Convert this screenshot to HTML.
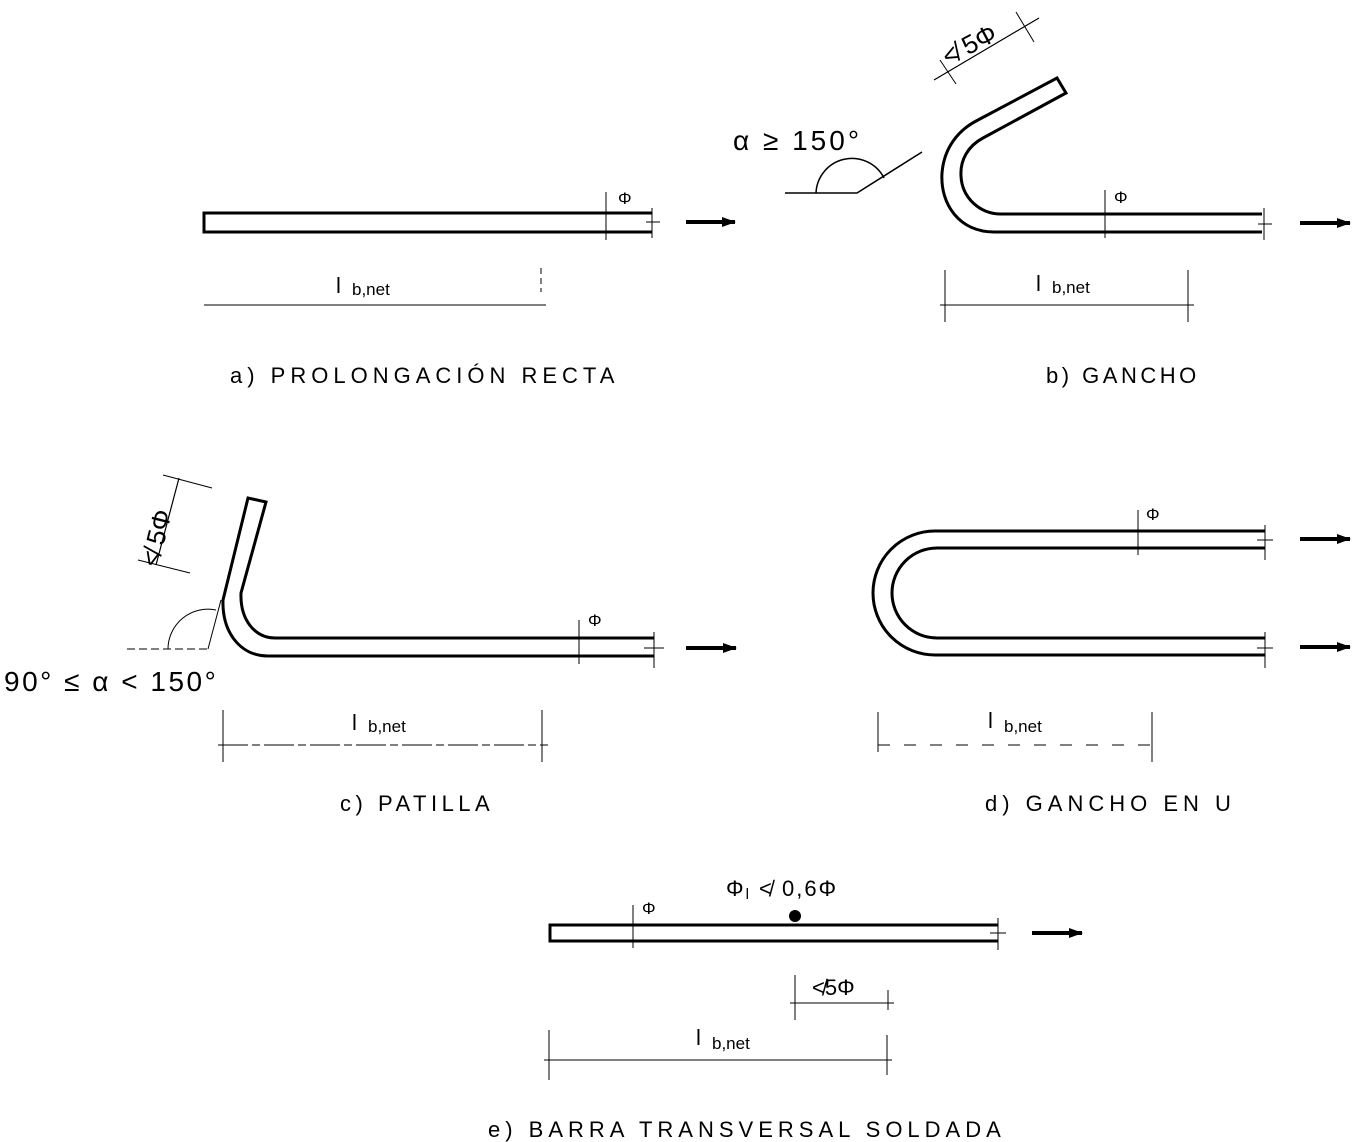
<!DOCTYPE html>
<html><head><meta charset="utf-8"><style>
body{margin:0;background:#fff}
svg{display:block}
text{font-family:"Liberation Sans",sans-serif;fill:#000}
.cap{font-size:22px;letter-spacing:5px}
.lb{font-size:22px}
.sub{font-size:17px}
</style></head><body>
<svg width="1356" height="1142" viewBox="0 0 1356 1142" xmlns="http://www.w3.org/2000/svg">
<defs><marker id="ar" markerWidth="14" markerHeight="10" refX="13" refY="5" orient="auto" markerUnits="userSpaceOnUse"><path d="M0,0 L14,5 L0,10 Z" fill="#000"/></marker></defs>
<g fill="none" stroke="#000">
<!-- a -->
<path d="M652,213 L204,213 L204,232 L652,232" stroke-width="3"/>
<line x1="606" y1="192" x2="606" y2="240" stroke-width="1"/>
<path d="M652,208 V238 M646,222 H660" stroke-width="1"/>
<line x1="686" y1="222" x2="735" y2="222" stroke-width="4" marker-end="url(#ar)"/>
<line x1="204" y1="305" x2="546" y2="305" stroke-width="1"/>
<line x1="541" y1="268" x2="541" y2="292" stroke-width="1" stroke-dasharray="6,4"/>
<!-- b -->
<path d="M1262,232 L994,232 C960,232 940,205 942,173 C944,148 958,130 978,120 L1057,78 L1066,93 L983,138 C968,146 960,160 961,176 C962,198 980,214 1001,214 L1262,214" stroke-width="3"/>
<line x1="1105" y1="190" x2="1105" y2="238" stroke-width="1"/>
<path d="M1264,208 V240 M1258,224 H1272" stroke-width="1"/>
<line x1="1300" y1="223" x2="1350" y2="223" stroke-width="4" marker-end="url(#ar)"/>
<path d="M785,193 H857 L922,152" stroke-width="1.5"/>
<path d="M816,193 A36,36 0 0 1 884,178" stroke-width="1.5"/>
<line x1="934" y1="80" x2="1039" y2="18" stroke-width="1.2"/>
<path d="M940,60 L956,84 M1016,12 L1034,42" stroke-width="1"/>
<line x1="945" y1="270" x2="945" y2="322" stroke-width="1"/>
<line x1="1188" y1="270" x2="1188" y2="322" stroke-width="1"/>
<line x1="940" y1="305" x2="1194" y2="305" stroke-width="1"/>
<!-- c -->
<path d="M654,656 L268,656 C240,656 222,632 223,600 L248,498 L266,502 L241,593 C240,620 255,638 275,638 L654,638" stroke-width="3"/>
<line x1="579" y1="620" x2="579" y2="664" stroke-width="1"/>
<path d="M654,632 V668 M644,648 H664" stroke-width="1"/>
<line x1="686" y1="648" x2="736" y2="648" stroke-width="4" marker-end="url(#ar)"/>
<line x1="179" y1="478" x2="156" y2="565" stroke-width="1.2"/>
<path d="M163,475 L212,488 M138,560 L190,573" stroke-width="1"/>
<line x1="127" y1="649" x2="208" y2="649" stroke-width="1" stroke-dasharray="8,4"/>
<line x1="208" y1="649" x2="221" y2="600" stroke-width="1"/>
<path d="M168,649 A40,40 0 0 1 216,610" stroke-width="1"/>
<line x1="223" y1="710" x2="223" y2="762" stroke-width="1"/>
<line x1="542" y1="710" x2="542" y2="762" stroke-width="1"/>
<line x1="218" y1="745" x2="548" y2="745" stroke-width="1" stroke-dasharray="30,4,8,4"/>
<!-- d -->
<path d="M1265,531 L935,531 A62,62 0 0 0 935,655 L1265,655" stroke-width="3"/>
<path d="M1265,548 L937,548 A45,45 0 0 0 937,638 L1265,638" stroke-width="3"/>
<line x1="1138" y1="510" x2="1138" y2="555" stroke-width="1"/>
<path d="M1265,525 V560 M1257,540 H1273 M1265,632 V668 M1257,648 H1273" stroke-width="1"/>
<line x1="1300" y1="539" x2="1350" y2="539" stroke-width="4" marker-end="url(#ar)"/>
<line x1="1300" y1="647" x2="1350" y2="647" stroke-width="4" marker-end="url(#ar)"/>
<line x1="878" y1="712" x2="878" y2="752" stroke-width="1"/>
<line x1="1152" y1="712" x2="1152" y2="762" stroke-width="1"/>
<line x1="878" y1="745" x2="1152" y2="745" stroke-width="1" stroke-dasharray="12,14"/>
<!-- e -->
<path d="M998,925 L550,925 L550,941 L998,941" stroke-width="3"/>
<line x1="633" y1="905" x2="633" y2="948" stroke-width="1"/>
<path d="M998,918 V950 M990,933 H1006" stroke-width="1"/>
<line x1="1032" y1="933" x2="1082" y2="933" stroke-width="4" marker-end="url(#ar)"/>
<line x1="795" y1="975" x2="795" y2="1020" stroke-width="1"/>
<line x1="888" y1="990" x2="888" y2="1010" stroke-width="1"/>
<line x1="790" y1="1003" x2="894" y2="1003" stroke-width="1"/>
<line x1="549" y1="1030" x2="549" y2="1080" stroke-width="1"/>
<line x1="887" y1="1035" x2="887" y2="1075" stroke-width="1"/>
<line x1="544" y1="1060" x2="892" y2="1060" stroke-width="1"/>
</g>
<circle cx="795" cy="916" r="6" fill="#000"/>
<!-- labels -->
<text x="618" y="204" class="sub">Φ</text>
<text x="336" y="293" class="lb">l</text><text x="352" y="295" class="sub">b,net</text>
<text x="230" y="383" class="cap">a) PROLONGACIÓN RECTA</text>
<text x="733" y="150" style="font-size:28px;letter-spacing:3px">α ≥ 150°</text>
<text x="0" y="0" style="font-size:26px" transform="translate(948,66) rotate(-28)">≮ 5Φ</text>
<text x="1114" y="203" class="sub">Φ</text>
<text x="1036" y="291" class="lb">l</text><text x="1052" y="293" class="sub">b,net</text>
<text x="1046" y="383" class="cap" style="letter-spacing:3.5px">b) GANCHO</text>
<text x="0" y="0" style="font-size:26px" transform="translate(158,568) rotate(-76)">≮ 5Φ</text>
<text x="4" y="691" style="font-size:28px;letter-spacing:2.5px">90° ≤ α &lt; 150°</text>
<text x="588" y="626" class="sub">Φ</text>
<text x="352" y="730" class="lb">l</text><text x="368" y="732" class="sub">b,net</text>
<text x="340" y="811" class="cap" style="letter-spacing:4.5px">c) PATILLA</text>
<text x="1146" y="520" class="sub">Φ</text>
<text x="988" y="728" class="lb">l</text><text x="1004" y="732" class="sub">b,net</text>
<text x="985" y="811" class="cap">d) GANCHO EN U</text>
<text x="642" y="914" class="sub">Φ</text>
<text x="726" y="896" style="font-size:22px;letter-spacing:2px">Φ<tspan style="font-size:15px" dy="3">l</tspan><tspan dy="-3"> ≮ 0,6Φ</tspan></text>
<text x="812" y="995" class="lb">≮5Φ</text>
<text x="696" y="1045" class="lb">l</text><text x="712" y="1049" class="sub">b,net</text>
<text x="488" y="1137" class="cap">e) BARRA TRANSVERSAL SOLDADA</text>
</svg>
</body></html>
